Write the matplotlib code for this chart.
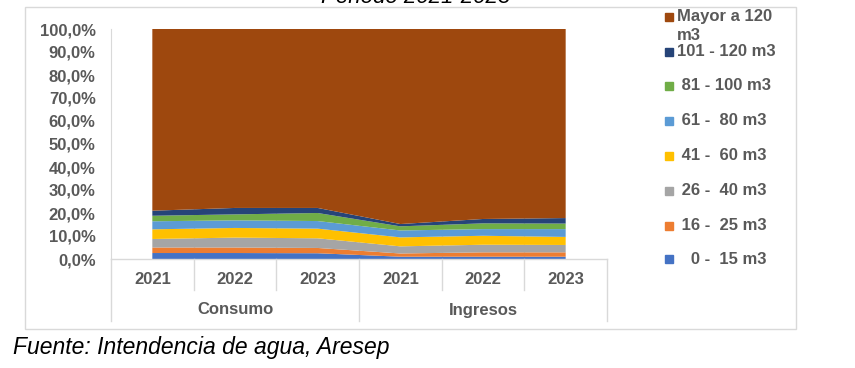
import numpy as np
import matplotlib.pyplot as plt
from matplotlib.lines import Line2D
from matplotlib.patches import Rectangle

plt.rcParams['font.family'] = ['Liberation Sans', 'DejaVu Sans']

anios = ['2021', '2022', '2023', '2021', '2022', '2023']
grupos = ['Consumo', 'Ingresos']

# participacion (%) por rango de consumo
r_0_15 = [2.6, 2.6, 2.5, 1.0, 1.0, 1.0]
r_16_25 = [2.4, 2.4, 2.3, 1.4, 1.9, 1.9]
r_26_40 = [3.7, 4.3, 4.2, 3.1, 3.3, 3.2]
r_41_60 = [4.2, 4.2, 4.2, 3.9, 3.9, 3.5]
r_61_80 = [3.5, 3.3, 3.3, 3.0, 2.9, 3.4]
r_81_100 = [2.4, 2.6, 3.5, 1.8, 2.5, 2.4]
r_101_120 = [2.2, 2.8, 2.2, 1.0, 1.9, 2.4]
r_mayor = [79.2, 77.8, 77.8, 84.8, 82.6, 82.2]

series = [r_0_15, r_16_25, r_26_40, r_41_60, r_61_80, r_81_100, r_101_120, r_mayor]
etiquetas = ['   0 -  15 m3', ' 16 -  25 m3', ' 26 -  40 m3', ' 41 -  60 m3',
             ' 61 -  80 m3', ' 81 - 100 m3', '101 - 120 m3', 'Mayor a 120\nm3']
colores = ['#4472C4', '#ED7D31', '#A5A5A5', '#FFC000', '#5B9BD5', '#70AD47',
           '#264478', '#9E480E']

W, H = 855, 368
fig = plt.figure(figsize=(W / 100, H / 100), dpi=100)
gris = '#595959'
linea = '#D9D9D9'


def fx(px):
    return px / W


def fy(py):
    return 1 - py / H


# marco exterior
fig.add_artist(Rectangle((fx(25), fy(329)), fx(796) - fx(25), fy(7) - fy(329),
                         transform=fig.transFigure, fill=False, edgecolor=linea, lw=1))

x0, x1, ytop, ybot = 111, 607, 29, 259
ax = fig.add_axes([fx(x0), fy(ybot), fx(x1) - fx(x0), fy(ytop) - fy(ybot)])
x = np.arange(len(anios))
ax.stackplot(x, np.array(series) / 100, colors=colores, lw=0, zorder=2)
ax.set_xlim(-0.5, len(anios) - 0.5)
ax.set_ylim(0, 1)
for b in np.arange(0.5, len(anios) - 1, 1):
    ax.axvline(b, color=linea, lw=1, zorder=1)
for s in ['top', 'right', 'bottom']:
    ax.spines[s].set_visible(False)
ax.spines['left'].set_color(linea)
ax.set_xticks([])
ticks = np.arange(0, 1.01, 0.1)
ax.set_yticks(ticks)
ax.set_yticklabels([f'{t*100:.1f}%'.replace('.', ',') for t in ticks],
                   fontsize=12, fontweight='bold', color=gris)
ax.tick_params(axis='y', length=0, pad=11)

# eje de categorias en dos niveles
fig.add_artist(Line2D([fx(x0), fx(x1)], [fy(ybot), fy(ybot)], color=linea, lw=1))
paso = (x1 - x0) / len(anios)
for i in range(len(anios) + 1):
    xp = x0 + i * paso
    fin = 321 if i % 3 == 0 else 290
    fig.add_artist(Line2D([fx(xp), fx(xp)], [fy(ybot), fy(fin)], color=linea, lw=1))
for i, a in enumerate(anios):
    fig.text(fx(x0 + (i + 0.5) * paso), fy(280), a, ha='center', va='center',
             fontsize=12, fontweight='bold', color=gris)
for j, g in enumerate(grupos):
    fig.text(fx(x0 + (3 * j + 1.5) * paso), fy(310), g, ha='center', va='center',
             fontsize=12, fontweight='bold', color=gris)

# leyenda
ys = [259.3, 226, 190.7, 156, 120.7, 86, 51.7, 16.7]
for lab, c, yy in zip(etiquetas, colores, ys):
    fig.add_artist(Rectangle((fx(664.5), fy(yy + 4)), fx(8), 8 / H,
                             transform=fig.transFigure, color=c))
    for k, parte in enumerate(lab.split('\n')):
        fig.text(fx(677), fy(yy + 18.3 * k), parte, ha='left', va='center',
                 fontsize=12, fontweight='bold', color=gris)

fig.text(fx(416), fy(3), 'Periodo 2021-2023', ha='center', va='baseline',
         fontsize=16, style='italic', color='black')
fig.text(fx(13), fy(354), 'Fuente: Intendencia de agua, Aresep', ha='left',
         va='baseline', fontsize=16.5, style='italic', color='black')

fig.savefig('out.png', dpi=100)
